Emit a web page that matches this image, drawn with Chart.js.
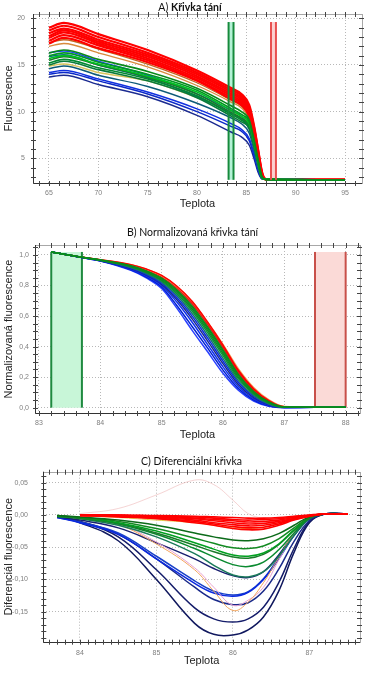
<!DOCTYPE html>
<html>
<head>
<meta charset="utf-8">
<script src="https://cdn.jsdelivr.net/npm/chart.js@4.4.0/dist/chart.umd.min.js"></script>
<style>
  body { margin: 0; background: #fff; width: 371px; height: 674px; position: relative; overflow: hidden; }
  canvas { position: absolute; left: 0; }
  .titulek { position: absolute; left: 0; text-align: center; font-family: Lato, sans-serif; font-size: 10.5px; color: #111; line-height: 14px; }
</style>
</head>
<body>
<canvas id="grafA" width="371" height="212" style="top:0px"></canvas>
<canvas id="grafB" width="371" height="233" style="top:212px"></canvas>
<canvas id="grafC" width="371" height="229" style="top:445px"></canvas>
<div class="titulek" style="top:0px;width:380px">A) <b>Křivka tání</b></div>
<div class="titulek" style="top:225px;width:385px">B) Normalizovaná křivka tání</div>
<div class="titulek" style="top:454px;width:383px">C) Diferenciální křivka</div>
<script>
// A) Křivka tání
var teplotaA = [65, 66.5, 70, 75, 80, 83.5, 84.5, 85.3, 85.8, 86.2, 86.6, 87, 95];
var cervenaA = [
  [19.0, 19.5, 18.3, 16.6, 14.4, 12.5, 11.9, 10.7, 8.4, 5.9, 3.5, 2.75, 2.7],
  [18.7, 19.2, 18.0, 16.3, 14.2, 12.3, 11.7, 10.5, 8.2, 5.8, 3.4, 2.75, 2.7],
  [18.4, 18.9, 17.7, 16.1, 14.0, 12.1, 11.5, 10.3, 8.0, 5.6, 3.3, 2.75, 2.7],
  [18.1, 18.7, 17.5, 15.9, 13.8, 11.9, 11.3, 10.1, 7.8, 5.5, 3.3, 2.75, 2.7],
  [17.9, 18.5, 17.3, 15.7, 13.6, 11.7, 11.1, 9.9, 7.6, 5.3, 3.2, 2.75, 2.7],
  [17.6, 18.2, 17.1, 15.5, 13.4, 11.5, 10.9, 9.7, 7.5, 5.2, 3.2, 2.75, 2.7],
  [17.3, 17.9, 16.8, 15.3, 13.3, 11.3, 10.7, 9.5, 7.3, 5.1, 3.1, 2.75, 2.7]
];
var oranzovaA = [
  [17.4, 17.7, 16.7, 15.1, 13.1, 11.2, 10.6, 9.4, 7.2, 5.0, 3.1, 2.75, 2.7],
  [17.0, 17.3, 16.3, 14.8, 12.8, 11.0, 10.4, 9.2, 7.0, 4.9, 3.0, 2.75, 2.7]
];
var zelenaA = [
  [16.3, 16.6, 15.6, 14.3, 12.5, 10.6, 10.0, 9.1, 6.9, 4.8, 3.0, 2.75, 2.7],
  [16.0, 16.3, 15.3, 14.0, 12.3, 10.3, 9.7, 8.9, 6.8, 4.7, 3.0, 2.75, 2.7],
  [15.7, 16.0, 15.1, 13.8, 12.1, 10.1, 9.5, 8.7, 6.6, 4.6, 2.9, 2.75, 2.7],
  [15.5, 15.9, 15.0, 13.7, 11.9, 9.9, 9.3, 8.5, 6.5, 4.5, 2.9, 2.75, 2.7],
  [15.2, 15.6, 14.7, 13.5, 11.7, 9.7, 9.1, 8.3, 6.3, 4.4, 2.9, 2.75, 2.7],
  [15.0, 15.4, 14.5, 13.3, 11.5, 9.5, 8.9, 8.2, 6.2, 4.3, 2.85, 2.75, 2.7]
];
var barvyZelenaA = ['#0a8a1a', '#009a20', '#00c020', '#1a7a2a', '#008a30', '#0a7a3a'];
var modraA = [
  [16.3, 16.5, 15.4, 13.9, 11.9, 10.1, 9.5, 8.3, 6.3, 4.3, 2.9, 2.75, 2.7],
  [15.9, 16.1, 15.0, 13.6, 11.6, 9.8, 9.2, 8.1, 6.1, 4.2, 2.85, 2.75, 2.7],
  [14.9, 15.1, 14.2, 13.3, 11.5, 9.9, 9.3, 8.2, 6.3, 4.3, 2.9, 2.75, 2.7],
  [14.6, 14.9, 13.9, 12.7, 10.9, 9.3, 8.7, 7.7, 5.8, 4.0, 2.8, 2.75, 2.7],
  [14.2, 14.4, 13.5, 12.1, 10.3, 8.7, 8.1, 7.1, 5.4, 3.8, 2.8, 2.75, 2.7],
  [14.0, 14.2, 13.3, 11.9, 10.0, 8.4, 7.9, 6.9, 5.2, 3.7, 2.8, 2.75, 2.7],
  [13.7, 13.9, 12.9, 11.6, 9.6, 7.8, 7.3, 6.4, 4.9, 3.5, 2.8, 2.75, 2.7]
];
var barvyModraA = ['#1f3fff', '#0b6b8a', '#d6c35a', '#0d5a78', '#1030e0', '#0a28c8', '#1a2a90'];
var xTickyA = [65, 70, 75, 80, 85, 90, 95];
var yTickyA = [5, 10, 15, 20];
var pasmoZeleneA = [83.2, 83.7];
var pasmoCerveneA = [87.5, 88.0];
var urovneA = [2.7, 19.6];

// B) Normalizovaná křivka tání
var teplotaB = [83.2, 83.7, 84.0, 84.5, 84.75, 85.0, 85.25, 85.5, 85.75, 86.0, 86.25, 86.5, 86.75, 87.0, 87.5, 88.0];
var zelenaB = [
  [1.02, 0.985, 0.967, 0.929, 0.896, 0.848, 0.771, 0.665, 0.528, 0.378, 0.218, 0.106, 0.037, 0.005, 0.003, 0.003],
  [1.02, 0.985, 0.967, 0.927, 0.893, 0.843, 0.764, 0.656, 0.518, 0.368, 0.210, 0.101, 0.034, 0.004, 0.003, 0.003],
  [1.02, 0.985, 0.966, 0.925, 0.889, 0.837, 0.756, 0.645, 0.506, 0.355, 0.200, 0.095, 0.031, 0.004, 0.003, 0.003],
  [1.02, 0.985, 0.966, 0.922, 0.885, 0.831, 0.746, 0.632, 0.492, 0.341, 0.190, 0.089, 0.028, 0.003, 0.003, 0.003],
  [1.02, 0.985, 0.965, 0.918, 0.879, 0.823, 0.734, 0.615, 0.474, 0.323, 0.177, 0.081, 0.024, 0.003, 0.003, 0.003]
];
var barvyZelenaB = ['#0a8a1a', '#009a20', '#1a7a2a', '#00a030', '#1a6a7a'];
var modraB = [
  [1.02, 0.984, 0.964, 0.914, 0.873, 0.815, 0.720, 0.598, 0.455, 0.305, 0.165, 0.073, 0.020, 0.002, 0.002, 0.002],
  [1.02, 0.984, 0.963, 0.911, 0.868, 0.808, 0.707, 0.580, 0.436, 0.288, 0.152, 0.065, 0.017, 0.002, 0.002, 0.002],
  [1.02, 0.984, 0.963, 0.907, 0.862, 0.800, 0.690, 0.558, 0.413, 0.267, 0.139, 0.057, 0.014, 0.001, 0.002, 0.002],
  [1.02, 0.984, 0.962, 0.903, 0.856, 0.790, 0.668, 0.530, 0.390, 0.246, 0.126, 0.050, 0.011, 0.001, 0.002, 0.002],
  [1.02, 0.983, 0.961, 0.899, 0.850, 0.780, 0.650, 0.505, 0.366, 0.225, 0.114, 0.043, 0.009, 0.0, 0.002, 0.002]
];
var barvyModraB = ['#0a28e0', '#1a2a8a', '#1030f0', '#0020d0', '#2a40ff'];
var cervenaB = [
  [1.02, 0.985, 0.969, 0.937, 0.908, 0.866, 0.795, 0.695, 0.560, 0.410, 0.245, 0.124, 0.046, 0.006, 0.003, 0.003],
  [1.02, 0.985, 0.969, 0.936, 0.907, 0.864, 0.793, 0.693, 0.560, 0.415, 0.255, 0.132, 0.051, 0.008, 0.003, 0.003],
  [1.02, 0.985, 0.968, 0.934, 0.904, 0.860, 0.787, 0.685, 0.550, 0.400, 0.236, 0.118, 0.043, 0.006, 0.003, 0.003],
  [1.02, 0.985, 0.968, 0.932, 0.901, 0.855, 0.781, 0.677, 0.542, 0.392, 0.229, 0.113, 0.040, 0.005, 0.003, 0.003]
];
var barvyCervenaB = ['#ff0000', '#f3a860', '#f01010', '#e82020'];
var xTickyB = [83, 84, 85, 86, 87, 88];
var yTickyB = [0, 0.2, 0.4, 0.6, 0.8, 1.0];
var yPopiskyB = ['0,0', '0,2', '0,4', '0,6', '0,8', '1,0'];
var pasmoZeleneB = [83.2, 83.7];
var pasmoCerveneB = [87.5, 88.0];
var urovneB = [0, 1.02];

// C) Diferenciální křivka
var teplotaC = [83.7, 84.0, 84.5, 85.0, 85.5, 85.75, 86.0, 86.2, 86.4, 86.6, 86.8, 87.0, 87.2, 87.5];
var cervenaC = [
  [null, 0.0, 0.0, -0.001, -0.002, -0.003, -0.004, -0.005, -0.005, -0.004, -0.002, 0.0, 0.0015, 0.0015],
  [null, 0.0, 0.0, -0.002, -0.003, -0.005, -0.007, -0.008, -0.007, -0.006, -0.003, -0.001, 0.0015, 0.0015],
  [null, 0.0, -0.001, -0.002, -0.005, -0.007, -0.009, -0.011, -0.010, -0.008, -0.004, -0.001, 0.0015, 0.0015],
  [null, 0.0, -0.001, -0.003, -0.006, -0.009, -0.012, -0.014, -0.013, -0.010, -0.005, -0.001, 0.0015, 0.0015],
  [null, 0.0, -0.002, -0.004, -0.008, -0.012, -0.015, -0.017, -0.016, -0.012, -0.006, -0.001, 0.0015, 0.0015],
  [null, -0.001, -0.002, -0.005, -0.010, -0.014, -0.018, -0.020, -0.019, -0.014, -0.007, -0.002, 0.0015, 0.0015],
  [null, -0.001, -0.003, -0.006, -0.012, -0.016, -0.021, -0.023, -0.022, -0.016, -0.008, -0.002, 0.0015, 0.0015]
];
var zlutaC = [null, -0.001, -0.004, -0.008, -0.012, -0.016, -0.020, -0.021, -0.019, -0.014, -0.007, -0.001, 0.0015, 0.0015];
var zelenaC = [
  [-0.001, -0.003, -0.008, -0.016, -0.028, -0.034, -0.039, -0.040, -0.037, -0.029, -0.016, -0.003, 0.0015, 0.0015],
  [-0.001, -0.004, -0.010, -0.021, -0.036, -0.044, -0.051, -0.052, -0.048, -0.037, -0.020, -0.004, 0.0015, 0.0015],
  [-0.002, -0.004, -0.012, -0.025, -0.043, -0.053, -0.062, -0.064, -0.059, -0.045, -0.023, -0.004, 0.0015, 0.0015],
  [-0.002, -0.005, -0.013, -0.028, -0.047, -0.057, -0.065, -0.067, -0.061, -0.046, -0.024, -0.005, 0.0015, 0.0015],
  [-0.002, -0.005, -0.014, -0.030, -0.052, -0.065, -0.077, -0.080, -0.073, -0.054, -0.028, -0.005, 0.0015, 0.0015],
  [-0.002, -0.006, -0.016, -0.034, -0.060, -0.078, -0.093, -0.096, -0.088, -0.064, -0.032, -0.006, 0.0015, 0.0015]
];
var barvyZelenaC = ['#0c6b1a', '#138a22', '#00a020', '#1a7a2a', '#0a8a30', '#1a7a5a'];
var modraC = [
  [-0.003, -0.008, -0.020, -0.043, -0.068, -0.083, -0.094, -0.097, -0.088, -0.062, -0.030, -0.006, 0.0015, 0.0015],
  [-0.004, -0.012, -0.030, -0.068, -0.106, -0.121, -0.126, -0.120, -0.100, -0.068, -0.032, -0.006, 0.0015, 0.0015],
  [-0.004, -0.011, -0.028, -0.064, -0.102, -0.118, -0.124, -0.119, -0.099, -0.066, -0.031, -0.006, 0.0015, 0.0015],
  [-0.003, -0.010, -0.030, -0.068, -0.112, -0.131, -0.139, -0.136, -0.118, -0.084, -0.041, -0.009, 0.0015, 0.0015],
  [-0.003, -0.010, -0.034, -0.085, -0.144, -0.161, -0.166, -0.161, -0.143, -0.105, -0.052, -0.010, 0.0015, 0.0015],
  [-0.003, -0.012, -0.040, -0.100, -0.168, -0.185, -0.186, -0.178, -0.158, -0.118, -0.058, -0.012, 0.0015, 0.0015]
];
var barvyModraC = ['#1a2070', '#0a28e0', '#1840c8', '#1a2a8a', '#141c6a', '#10185e'];
var oranzovaC = [null, -0.005, -0.015, -0.045, -0.085, -0.118, -0.148, -0.135, -0.105, -0.066, -0.028, -0.004, 0.0015, 0.0015];
var ruzovaC = [null, -0.004, -0.014, -0.042, -0.082, -0.112, -0.140, -0.132, -0.112, -0.070, -0.030, -0.004, 0.0015, 0.0015];
var slabaC = [null, 0.002, 0.010, 0.031, 0.054, 0.047, 0.023, 0.002, -0.006, null, null, null, null, null];
var xTickyC = [84, 85, 86, 87];
var yTickyC = [-0.15, -0.10, -0.05, 0, 0.05];
var yPopiskyC = ['-0,15', '-0,10', '-0,05', '0,00', '0,05'];

// ramecek grafu s vedlejsimi carkami
var ramecek = {
  id: 'ramecek',
  afterDatasetsDraw: function (chart, args, opts) {
    var ctx = chart.ctx, a = chart.chartArea, x = chart.scales.x, y = chart.scales.y;
    ctx.save();
    ctx.lineWidth = 1;
    ctx.strokeStyle = '#a8a8a8';
    ctx.strokeRect(Math.round(a.left) + 0.5, Math.round(a.top) + 0.5, Math.round(a.right - a.left), Math.round(a.bottom - a.top));
    ctx.strokeStyle = '#333';
    ctx.beginPath();
    ctx.moveTo(Math.round(a.left) + 0.5, a.top);
    ctx.lineTo(Math.round(a.left) + 0.5, Math.round(a.bottom) + 0.5);
    ctx.lineTo(a.right, Math.round(a.bottom) + 0.5);
    ctx.stroke();
    ctx.strokeStyle = '#444';
    ctx.beginPath();
    for (var i = Math.ceil(x.min / opts.dx - 1e-9); i * opts.dx <= x.max + 1e-9; i++) {
      var px = Math.round(x.getPixelForValue(i * opts.dx)) + 0.5;
      ctx.moveTo(px, a.bottom - 2); ctx.lineTo(px, a.bottom + 3);
      ctx.moveTo(px, a.top - 2); ctx.lineTo(px, a.top + 3);
    }
    for (var j = Math.ceil(y.min / opts.dy - 1e-9); j * opts.dy <= y.max + 1e-9; j++) {
      var py = Math.round(y.getPixelForValue(j * opts.dy)) + 0.5;
      ctx.moveTo(a.left - 2, py); ctx.lineTo(a.left + 3, py);
      ctx.moveTo(a.right - 3, py); ctx.lineTo(a.right + 2, py);
    }
    ctx.stroke();
    ctx.restore();
  }
};

function krivky(xs, rows, colors, width) {
  return rows.map(function (row, i) {
    return {
      data: row.map(function (v, k) { return { x: xs[k], y: v }; }),
      borderColor: colors[i], borderWidth: width, fill: false, order: 1
    };
  });
}

function pasmo(xs, urovne, barvaCary, barvaVyplne, poradiCar) {
  var rovne = { tension: 0, cubicInterpolationMode: 'default', pointRadius: 0 };
  return [
    Object.assign({ data: xs.map(function (v) { return { x: v, y: urovne[1] }; }), fill: { value: urovne[0] },
      backgroundColor: barvaVyplne, borderWidth: 0, order: 3 }, rovne),
    Object.assign({ data: [{ x: xs[0], y: urovne[0] }, { x: xs[0], y: urovne[1] }], borderColor: barvaCary,
      borderWidth: 2, fill: false, order: poradiCar }, rovne),
    Object.assign({ data: [{ x: xs[1], y: urovne[0] }, { x: xs[1], y: urovne[1] }], borderColor: barvaCary,
      borderWidth: 2, fill: false, order: poradiCar }, rovne)
  ];
}

function osa(o) {
  return {
    type: 'linear', min: o.min, max: o.max,
    afterFit: function (s) { if (s.isHorizontal()) s.height = o.size; else s.width = o.size; },
    afterBuildTicks: function (s) { s.ticks = o.ticks.map(function (v) { return { value: v }; }); },
    grid: { color: '#b8b8b8', lineWidth: 1, drawTicks: false },
    border: { display: false, dash: [1, 2] },
    ticks: {
      padding: o.pad, color: '#808080', autoSkip: false, maxRotation: 0,
      font: { family: 'Liberation Sans', size: 7 },
      callback: function (v, i) { return o.labels ? o.labels[i] : String(o.ticks[i]); }
    },
    title: { display: true, text: o.title, color: '#222', font: { family: 'Liberation Sans', size: 11 }, padding: o.titlePad }
  };
}

function graf(id, datasets, padding, mode, minor, xOsa, yOsa) {
  return new Chart(document.getElementById(id), {
    type: 'line',
    data: { datasets: datasets },
    options: {
      responsive: false, animation: false, events: [],
      layout: { padding: padding },
      elements: { point: { radius: 0 }, line: mode },
      plugins: { legend: { display: false }, tooltip: { enabled: false }, ramecek: minor },
      scales: { x: osa(xOsa), y: osa(yOsa) }
    },
    plugins: [ramecek]
  });
}

var monotonni = { cubicInterpolationMode: 'monotone' };

graf('grafA',
  [].concat(
    krivky(teplotaA, zelenaA, barvyZelenaA, 1.6),
    krivky(teplotaA, modraA, barvyModraA, 1.5),
    krivky(teplotaA, cervenaA, cervenaA.map(function () { return '#ff0000'; }), 2.2),
    krivky(teplotaA, oranzovaA, ['#c0661e', '#d88a3c'], 1.3),
    pasmo(pasmoZeleneA, urovneA, '#168a3c', '#b4f2d6', 0),
    pasmo(pasmoCerveneA, urovneA, '#e85050', '#fbd0d0', 0)
  ),
  { top: 14, right: 9, left: 0, bottom: 0 }, monotonni, { dx: 1, dy: 1 },
  { min: 63.38, max: 96.72, size: 29, ticks: xTickyA, pad: 5.8, title: 'Teplota', titlePad: { top: 0, bottom: 1.4 } },
  { min: 2.36, max: 20.46, size: 33, ticks: yTickyA, pad: 8, title: 'Fluorescence', titlePad: { top: 2.2, bottom: 0 } }
);

graf('grafB',
  [].concat(
    krivky(teplotaB, zelenaB, barvyZelenaB, 1.5),
    krivky(teplotaB, modraB, barvyModraB, 1.5),
    krivky(teplotaB, cervenaB, barvyCervenaB, 1.5),
    pasmo(pasmoZeleneB, urovneB, '#1f8a40', '#c8f6d8', 2),
    pasmo(pasmoCerveneB, urovneB, '#c8504a', '#fbdad7', 2)
  ),
  { top: 33, right: 11, left: 0, bottom: 0 }, monotonni, { dx: 0.2, dy: 0.05 },
  { min: 82.935, max: 88.234, size: 32, ticks: xTickyB, pad: 5.8, title: 'Teplota', titlePad: { top: 0, bottom: 3.4 } },
  { min: -0.035, max: 1.0655, size: 35, ticks: yTickyB, labels: yPopiskyB, pad: 6, title: 'Normalizovaná fluorescence', titlePad: { top: 2.7, bottom: 0 } }
);

graf('grafC',
  [].concat(
    krivky(teplotaC, cervenaC, cervenaC.map(function () { return '#ff0000'; }), 1.6),
    krivky(teplotaC, [zlutaC], ['#e6c84a'], 1),
    krivky(teplotaC, zelenaC, barvyZelenaC, 1.5),
    krivky(teplotaC, [oranzovaC, ruzovaC], ['#f2a45c', '#e8a0d0'], 1),
    krivky(teplotaC, modraC, barvyModraC, 1.5),
    krivky(teplotaC, [slabaC], ['rgba(236,170,170,0.5)'], 1)
  ),
  { top: 26.7, right: 11, left: 0, bottom: 0 }, { tension: 0.4 }, { dx: 0.1, dy: 0.01 },
  { min: 83.52, max: 87.663, size: 32.3, ticks: xTickyC, pad: 7.4, title: 'Teplota', titlePad: { top: 0, bottom: 6.4 } },
  { min: -0.1964, max: 0.067, size: 43.3, ticks: yTickyC, labels: yPopiskyC, pad: 15.3, title: 'Diferenciál fluorescence', titlePad: { top: 2.6, bottom: 0 } }
);
</script>
</body>
</html>
